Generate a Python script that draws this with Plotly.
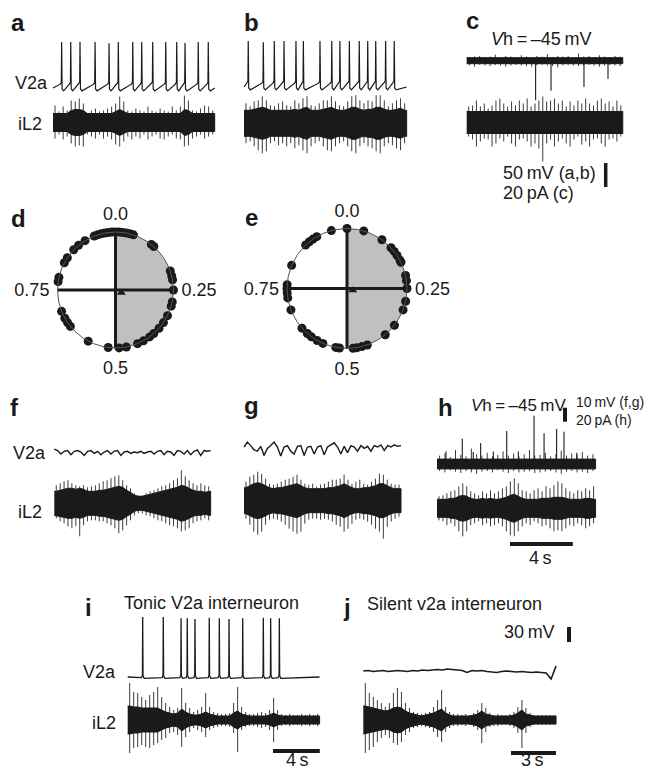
import plotly.graph_objects as go

# page geometry: the page body has an 8 px margin, so the figure is placed 8 px in
PAGE_W, PAGE_H = 654, 771
OFF = 8
W, H = PAGE_W - OFF, PAGE_H - OFF
FONT = "Liberation Sans, Arial, Helvetica, sans-serif"
INK = "#1a1a1a"
FRINGE = "#3c3c3c"
GREY_FILL = "#bfc0c2"

# ---------------- data ----------------
# V2a spike times (s) and peak potentials (mV)
A_SPIKE_T = [0.55, 1.13, 1.72, 2.68, 3.57, 4.16, 5.08, 5.65, 6.35, 7.18, 7.88, 8.41, 9.25, 9.89]
A_SPIKE_V = [36, 36, 36, 36, 33, 36, 36, 36, 36, 36, 36, 34, 36, 36]
A_DUR = 10.3
B_SPIKE_T = [0.27, 1.23, 1.93, 2.55, 3.31, 3.78, 4.84, 5.59, 6.11, 6.71, 7.34, 7.88, 8.39, 9.02, 9.57]
B_SPIKE_V = [36, 33, 36, 36, 36, 36, 36, 36, 36, 36, 36, 36, 36, 36, 36]
B_DUR = 10.36
I_SPIKE_T = [1.28, 3.04, 4.56, 5.09, 5.75, 6.97, 7.83, 8.66, 9.83, 11.59, 12.22, 12.96]
I_SPIKE_V = [30, 30, 28, 28, 27, 29, 28, 27, 28, 29, 28, 28]
I_DUR = 16.4

# iL2 envelope (upper spike tips, lower spike tips, solid body half-width), arbitrary units
A_HI = [17,11,16,12,22,21,24,19,9,12,14,11,12,14,16,19,26,21,12,11,14,12,11,16,12,11,14,12,11,16,12,16,27,22,12,11,14,17,16,12]
A_LO = [16,12,17,14,21,24,23,24,12,14,16,12,16,14,17,22,24,19,14,17,14,16,12,17,14,12,16,17,14,12,16,17,24,23,16,14,12,16,14,12]
A_BODY = [9,9,9,9,12,13,13,12,9,9,9,9,9,9,9,11,13,11,9,9,9,9,9,9,9,9,9,9,9,9,9,9,13,12,9,9,9,9,9,9]
B_HI = [20,17,22,23,27,23,18,17,20,22,18,17,23,20,25,27,18,17,20,23,23,27,22,18,17,22,27,28,23,20,23,22,28,28,23,17,20,23,25,20]
B_LO = [20,18,23,27,30,28,20,18,22,20,23,20,25,22,27,30,23,20,18,23,27,28,23,20,18,23,28,30,23,20,23,25,28,30,23,20,22,25,27,20]
B_BODY = [13,13,14,15,16,15,13,13,13,13,13,13,14,13,15,16,13,13,13,14,15,16,14,13,13,14,16,16,14,13,14,14,16,16,14,13,13,14,15,13]
C_DUR = 9.94
C_HI = [16,17,22,16,19,14,17,22,24,19,16,21,17,22,19,24,16,19,22,26,21,22,24,19,22,16,21,17,22,19,24,19,17,22,24,19,21,16,22,17]
C_LO = [14,17,24,19,16,17,24,21,16,19,14,21,24,17,16,19,24,21,26,39,21,17,24,19,16,21,24,17,14,22,19,24,17,16,21,24,17,16,19,14]
C_BODY = [11] * 40
# panel c voltage-clamp current (pA): noise band and inward events
C_TOP_HI = [3,3.5,4,3,3.5,5,3,4,3.5,3,4.5,3.5,3,4,3.5,5.5,3,4,3.5,4,3,6,3.5,4,3,4.5,3.5,3,4,3.5]
C_TOP_LO = [4,5,3.5,4,4.5,3.5,4,5,4,3.5,4,4.5,5,4,3.5,4,4.5,5.5,4,3.5,4,4.5,4,3.5,4,5,4,3.5,4,4.5]
C_TOP_BODY = [2.5] * 30
C_EVENT_T = [4.39, 5.37, 7.47, 9.0]
C_EVENT_A = [-33, -25, -22, -15]

F_DUR = 9.96
F_V2A = [2.0,1.0,-1.5,0.5,1.0,-2.0,0.5,1.0,0.0,-2.5,0.5,1.0,-1.0,0.5,-2.0,0.0,1.0,-1.5,0.5,1.0,-2.5,0.0,0.5,-1.0,
         0.0,-0.5,0.5,-1.0,0.0,0.5,-1.5,0.5,1.0,-2.0,0.5,0.0,-2.5,1.0,0.5,-1.5,1.0,-2.0,0.5,1.5,-2.5,1.0,0.5,1.0]
F_HI = [18,20,22,23,20,18,17,18,16,17,18,20,22,23,25,27,28,23,18,15,10,8,8,10,12,13,15,17,18,20,23,25,33,27,23,20,18,20,18,17]
F_LO = [15,18,20,23,25,23,33,22,18,17,17,18,18,20,22,25,30,27,22,17,12,10,10,12,13,15,17,18,20,22,23,25,28,27,25,20,18,17,15,17]
F_BODY = [12,13,14,15,15,14,15,14,12,12,12,13,13,14,15,16,17,16,13,11,8,7,7,8,9,10,11,12,13,14,15,16,18,17,15,13,12,12,11,12]

G_DUR = 10.0
G_V2A = [0,3.5,1,-2,-3,0.5,-6,-1,1,3.5,0,-6.5,0,1,-3,-5,0.5,1,-6,0,0.5,-5,0,1,-5.5,0,1.5,3,0,-5,0.5,-4,
         1,0,-3,1,-1,0.5,-3,1,0,1.5,-2.5,1,0,1.5,0.5,1]
G_HI = [19,24,26,29,27,22,17,16,17,19,21,22,24,26,21,17,16,17,14,16,17,19,21,21,22,26,21,17,19,21,17,16,19,22,27,26,21,17,16,16]
G_LO = [18,24,31,34,31,24,19,18,19,21,24,28,31,33,31,23,19,18,18,19,18,19,21,24,26,31,28,23,19,18,19,21,24,28,31,38,26,21,18,16]
G_BODY = [13,15,17,18,17,15,13,12,13,13,14,15,16,17,15,13,12,12,12,12,12,13,13,14,15,17,15,13,12,12,13,13,14,15,17,17,15,13,12,12]

H_DUR = 10.1
H_TOP_HI = [12,15,10,20,13,11,22,14,12,16,11,13,18,12,15,11,14,20,12,13,16,11,14,19,12,15,13,17,12,14]
H_TOP_LO = [10,12,9,11,13,10,12,14,11,10,12,9,11,13,10,12,11,10,13,12,11,10,12,14,11,10,12,11,13,10]
H_TOP_BODY = [7] * 30
H_EVENT_T = [0.57, 1.61, 2.31, 2.78, 3.59, 4.44, 5.18, 6.18, 6.82, 7.62, 8.09, 8.9]
H_EVENT_A = [18, 36, 17, 30, 18, 47, 18, 69, 44, 50, 46, 16]
H_HI = [12,13,15,17,18,22,25,22,17,15,13,17,15,18,15,17,20,22,27,30,25,18,17,15,18,20,17,22,20,23,27,25,20,17,15,18,17,20,18,22]
H_LO = [12,13,17,15,18,23,28,23,17,15,13,17,15,18,17,15,18,23,27,28,23,18,15,17,13,15,18,17,20,23,22,23,20,17,18,15,17,20,18,15]
H_BODY = [9,9,9,10,10,12,13,12,10,9,9,10,9,10,9,9,10,11,13,14,12,10,9,9,9,9,10,10,10,11,11,11,10,9,9,9,9,10,10,9]

I_HI = [37,28,27,23,20,25,28,33,23,17,13,10,12,32,17,12,8,10,13,27,13,8,7,6,6,7,17,33,13,8,6,6,7,8,7,10,22,10,6,5,6,5,5,6,5,6,5,6]
I_LO = [33,28,27,25,27,28,25,23,20,18,13,12,15,27,17,12,8,10,12,17,10,8,7,6,6,7,13,32,10,7,6,6,7,8,7,10,22,10,6,5,6,5,5,6,5,6,5,6]
I_BODY = [14,13,13,12,12,12,12,12,10,8,7,6,7,11,8,6,5,5,6,8,6,5,4,4,4,4,7,9,6,5,4,4,4,4,4,5,7,5,4,4,4,4,4,4,4,4,4,4]

J_DUR = 12.85
J_V2A = [0,1,-1,0,1,-1,0,1,0,-1,1,0,2,1,2,3,2,4,3,2,1,-3,1,0,1,-1,-2,-3,-1,0,-1,-2,-1,-2,-3,-2,-3,-4,-16,10]
J_HI = [37,27,23,20,17,13,17,27,32,28,17,12,8,7,6,7,8,13,20,30,13,8,6,6,5,6,5,7,10,17,12,7,5,6,5,5,6,8,13,20,12,7,5,5,5,5,5,5]
J_LO = [33,30,27,22,18,15,18,23,25,22,15,12,8,7,6,7,8,12,17,22,12,8,6,6,5,6,5,7,10,23,12,7,6,6,5,5,6,8,13,28,13,7,5,5,5,5,5,5]
J_BODY = [14,13,12,11,10,9,10,12,13,12,9,7,6,5,4,5,6,7,9,11,7,5,4,4,4,4,4,5,6,9,6,5,4,4,4,4,4,5,7,10,6,5,4,4,4,4,4,4]

# spike phases (fraction of cycle) for circular plots
D_PHASES = [0.94,0.95,0.96,0.97,0.98,0.99,0.0,0.01,0.02,0.03,0.04,0.05,0.106,0.115,0.197,0.211,0.222,0.25,
            0.283,0.295,0.323,0.345,0.365,0.385,0.40,0.42,0.438,0.47,0.49,0.52,0.578,0.642,0.655,0.669,0.69,
            0.773,0.785,0.828,0.844,0.872,0.89,0.912]
D_MEAN = (0.11, 0.32)
E_PHASES = [0.0,0.045,0.099,0.131,0.144,0.157,0.172,0.178,0.215,0.229,0.25,0.284,0.308,0.355,0.39,0.445,0.46,
            0.474,0.484,0.52,0.53,0.566,0.583,0.601,0.615,0.635,0.692,0.725,0.738,0.75,0.76,0.813,0.879,0.892,
            0.904,0.916,0.958]
E_MEAN = (0.1, 0.30)
PHASE_TICKS = [0.0, 0.25, 0.5, 0.75]
PHASE_LABELS = ["0.0", "0.25", "0.5", "0.75"]

# ---------------- helpers ----------------
fig = go.Figure()
axes_layout = {}


def px(x):
    return (x - OFF) / W


def py(y):
    return 1 - (y - OFF) / H


def add_axes(idx, box, xo, sx, yo, sy):
    X0, X1, Y0, Y1 = box
    s = "" if idx == 1 else str(idx)
    axes_layout["xaxis" + s] = dict(domain=[px(X0), px(X1)], range=[(X0 - xo) / sx, (X1 - xo) / sx],
                                    visible=False, anchor="y" + s, fixedrange=True)
    axes_layout["yaxis" + s] = dict(domain=[py(Y1), py(Y0)], range=[(yo - Y1) / sy, (yo - Y0) / sy],
                                    visible=False, anchor="x" + s, fixedrange=True)
    return "x" + s, "y" + s


def band(ax, dur, hi, lo, body):
    n = len(hi)
    dt = dur / n
    cs = [(i + 0.5) * dt for i in range(n)]
    # spike fringe (drawn first, under the solid body)
    sx, sy = [], []
    for c, h, l in zip(cs, hi, lo):
        sx += [c, c, None]; sy += [h, -l, None]
    fig.add_trace(go.Scatter(x=sx, y=sy, xaxis=ax[0], yaxis=ax[1], mode="lines",
                             line=dict(color=FRINGE, width=1), hoverinfo="skip", showlegend=False))
    # solid body
    xs = [0] + cs + [dur, dur] + cs[::-1] + [0]
    ys = [body[0]] + list(body) + [body[-1], -body[-1]] + [-b for b in body[::-1]] + [-body[0]]
    fig.add_trace(go.Scatter(x=xs, y=ys, xaxis=ax[0], yaxis=ax[1], mode="lines", fill="toself",
                             fillcolor=INK, line=dict(color=INK, width=1),
                             hoverinfo="skip", showlegend=False))


def events(ax, times, amps):
    xs, ys = [], []
    for t, a in zip(times, amps):
        xs += [t, t, None]; ys += [0, a, None]
    fig.add_trace(go.Scatter(x=xs, y=ys, xaxis=ax[0], yaxis=ax[1], mode="lines",
                             line=dict(color=INK, width=1.1), hoverinfo="skip", showlegend=False))


def spiking(ax, times, peaks, dur, rest, thr, trough, width=1.2):
    xs, ys = [0], [rest]
    for t, p in zip(times, peaks):
        xs += [t - 0.09, t - 0.02, t, t + 0.03, t + 0.13]
        ys += [thr - 4, thr, p, trough + 4, trough]
    xs.append(dur); ys.append(rest)
    fig.add_trace(go.Scatter(x=xs, y=ys, xaxis=ax[0], yaxis=ax[1], mode="lines",
                             line=dict(color=INK, width=width), hoverinfo="skip", showlegend=False))


def wiggle(ax, vals, dur, width=1.4):
    n = len(vals)
    xs = [i * dur / (n - 1) for i in range(n)]
    fig.add_trace(go.Scatter(x=xs, y=vals, xaxis=ax[0], yaxis=ax[1], mode="lines",
                             line=dict(color=INK, width=width), hoverinfo="skip", showlegend=False))


shapes = []


def bar(ax, x0, y0, x1, y1, width=4):
    shapes.append(dict(type="line", xref=ax[0], yref=ax[1], x0=x0, y0=y0, x1=x1, y1=y1,
                       line=dict(color=INK, width=width)))


annots = []


def txt(x, y, text, size=18, xanchor="center", bold=False):
    if bold:
        text = "<b>" + text + "</b>"
    annots.append(dict(x=px(x), y=py(y), xref="paper", yref="paper", text=text, showarrow=False,
                       xanchor=xanchor, yanchor="middle", font=dict(family=FONT, size=size, color=INK)))


# ---------------- panels a, b, c ----------------
PPS = 15.7  # px per second
ax = add_axes(1, (45, 222, 30, 100), 53, PPS, 88 - 60 * 0.48, 0.48)
spiking(ax, A_SPIKE_T, A_SPIKE_V, A_DUR, -60, -48, -66)
ax = add_axes(2, (45, 222, 88, 160), 53, PPS, 122.5, 1)
band(ax, A_DUR, A_HI, A_LO, A_BODY)

ax = add_axes(3, (236, 415, 30, 100), 244, PPS, 87 - 60 * 0.48, 0.48)
spiking(ax, B_SPIKE_T, B_SPIKE_V, B_DUR, -60, -48, -66)
ax = add_axes(4, (236, 415, 88, 165), 244, PPS, 123.3, 1)
band(ax, B_DUR, B_HI, B_LO, B_BODY)

ax = add_axes(5, (458, 632, 40, 200), 466.7, PPS, 60.7, 1.2)
band(ax, C_DUR, C_TOP_HI, C_TOP_LO, C_TOP_BODY)
events(ax, C_EVENT_T, C_EVENT_A)
bar(ax, (605.7 - 466.7) / PPS, (60.7 - 187) / 1.2, (605.7 - 466.7) / PPS, (60.7 - 187) / 1.2 + 20, 3.5)
ax = add_axes(6, (458, 632, 90, 170), 466.7, PPS, 122.5, 1)
band(ax, C_DUR, C_HI, C_LO, C_BODY)

# ---------------- panels f, g, h ----------------
ax = add_axes(7, (45, 222, 430, 470), 54.3, PPS, 452, 1.4)
wiggle(ax, F_V2A, F_DUR)
ax = add_axes(8, (45, 222, 462, 548), 54.3, PPS, 503.3, 1)
band(ax, F_DUR, F_HI, F_LO, F_BODY)

ax = add_axes(9, (236, 410, 430, 470), 244, PPS, 447, 1.4)
wiggle(ax, G_V2A, G_DUR)
ax = add_axes(10, (236, 410, 462, 548), 244, PPS, 500.7, 1)
band(ax, G_DUR, G_HI, G_LO, G_BODY)

ax = add_axes(11, (430, 600, 398, 482), 437, PPS, 464, 0.7)
band(ax, H_DUR, H_TOP_HI, H_TOP_LO, H_TOP_BODY)
events(ax, H_EVENT_T, H_EVENT_A)
bar(ax, (565 - 437) / PPS, (464 - 421.7) / 0.7, (565 - 437) / PPS, (464 - 421.7) / 0.7 + 20, 4)
ax = add_axes(12, (430, 600, 475, 552), 437, PPS, 508.3, 1)
band(ax, H_DUR, H_HI, H_LO, H_BODY)
bar(ax, (510 - 437) / PPS, 508.3 - 544, (510 - 437) / PPS + 4, 508.3 - 544, 4)

# ---------------- panels i, j ----------------
PPS_I = 11.7
ax = add_axes(13, (120, 330, 608, 690), 127.7, PPS_I, 677 - 60 * 0.667, 0.667)
spiking(ax, I_SPIKE_T, I_SPIKE_V, I_DUR, -60, -57, -62, 1.3)
ax = add_axes(14, (120, 330, 680, 760), 127.7, PPS_I, 720, 1)
band(ax, I_DUR, I_HI, I_LO, I_BODY)
bar(ax, (273 - 127.7) / PPS_I, -31, (273 - 127.7) / PPS_I + 4, -31, 4)

PPS_J = 15.0
ax = add_axes(15, (355, 580, 615, 690), 363.3, PPS_J, 671, 0.5)
wiggle(ax, J_V2A, J_DUR, 1.6)
bar(ax, (569 - 363.3) / PPS_J, (671 - 642) / 0.5, (569 - 363.3) / PPS_J, (671 - 642) / 0.5 + 30, 4)
ax = add_axes(16, (355, 580, 680, 762), 363.3, PPS_J, 720, 1)
band(ax, J_DUR, J_HI, J_LO, J_BODY)
bar(ax, (511 - 363.3) / PPS_J, -33, (511 - 363.3) / PPS_J + 3, -33, 4)

# ---------------- circular plots d, e ----------------
for name, phases, mean in (("polar", D_PHASES, D_MEAN), ("polar2", E_PHASES, E_MEAN)):
    fig.add_trace(go.Barpolar(r=[1], theta=[90], width=[180], marker=dict(color=GREY_FILL, line=dict(width=0)),
                              subplot=name, hoverinfo="skip", showlegend=False))
    # cross-hair along the phase ticks (two diameters)
    for a, b in ((PHASE_TICKS[0], PHASE_TICKS[2]), (PHASE_TICKS[1], PHASE_TICKS[3])):
        fig.add_trace(go.Scatterpolar(r=[1, 0, 1], theta=[a * 360, a * 360, b * 360], mode="lines",
                                      line=dict(color=INK, width=3), subplot=name, cliponaxis=False,
                                      hoverinfo="skip", showlegend=False))
    fig.add_trace(go.Scatterpolar(r=[1] * len(phases), theta=[p * 360 for p in phases], mode="markers",
                                  marker=dict(size=9, color=INK, line=dict(width=0)), subplot=name,
                                  cliponaxis=False, hoverinfo="skip", showlegend=False))
    fig.add_trace(go.Scatterpolar(r=[mean[0]], theta=[mean[1] * 360], mode="markers",
                                  marker=dict(size=8, color=INK, symbol="triangle-up"), subplot=name,
                                  hoverinfo="skip", showlegend=False))


def polar_layout(cx, cy, r):
    return dict(
        domain=dict(x=[px(cx - r), px(cx + r)], y=[py(cy + r), py(cy - r)]),
        bgcolor="white",
        radialaxis=dict(visible=False, range=[0, 1], showgrid=False),
        angularaxis=dict(direction="clockwise", rotation=90, tickmode="array",
                         tickvals=[p * 360 for p in PHASE_TICKS], ticktext=PHASE_LABELS,
                         showgrid=False, showline=True, linecolor="#555", linewidth=1,
                         ticks="outside", ticklen=4, tickcolor="rgba(0,0,0,0)",
                         tickfont=dict(family=FONT, size=18, color=INK)),
    )


# ---------------- text ----------------
for (x, y, s) in [(18, 22, "a"), (251.5, 22, "b"), (472, 21, "c"), (18.5, 218, "d"), (251, 217, "e"),
                  (14, 407, "f"), (251, 406, "g"), (446, 407, "h"), (88, 607, "i"), (347, 607, "j")]:
    txt(x, y, s, 24, bold=True)

txt(50, 83, "V2a", xanchor="right")
txt(44, 124, "iL2", xanchor="right")
txt(541, 39, "<i>V</i>h\u2009=\u2009\u201345\u2009mV")
txt(501, 173, "50\u2009mV (a,b)", xanchor="left")
txt(501, 193, "20\u2009pA (c)", xanchor="left")
txt(48, 453, "V2a", xanchor="right")
txt(44, 512, "iL2", xanchor="right")
txt(518, 406, "<i>V</i>h\u2009=\u2009\u201345\u2009mV", 17)
txt(574, 402, "10\u2009mV (f,g)", 14, xanchor="left")
txt(574, 420, "20\u2009pA (h)", 14, xanchor="left")
txt(540, 558, "4\u2009s")
txt(211, 603, "Tonic V2a interneuron")
txt(118, 672, "V2a", xanchor="right")
txt(118, 723, "iL2", xanchor="right")
txt(297, 760, "4\u2009s")
txt(454, 604, "Silent v2a interneuron")
txt(557, 632, "30\u2009mV", xanchor="right")
txt(532, 760, "3\u2009s")

fig.update_layout(
    width=W, height=H, margin=dict(l=0, r=0, t=0, b=0),
    paper_bgcolor="white", plot_bgcolor="rgba(0,0,0,0)", showlegend=False,
    font=dict(family=FONT, size=18, color=INK),
    polar=polar_layout(115.5, 290, 58),
    polar2=polar_layout(347, 288.5, 60),
    shapes=shapes, annotations=annots,
    **axes_layout,
)

fig.write_html("out.html")
